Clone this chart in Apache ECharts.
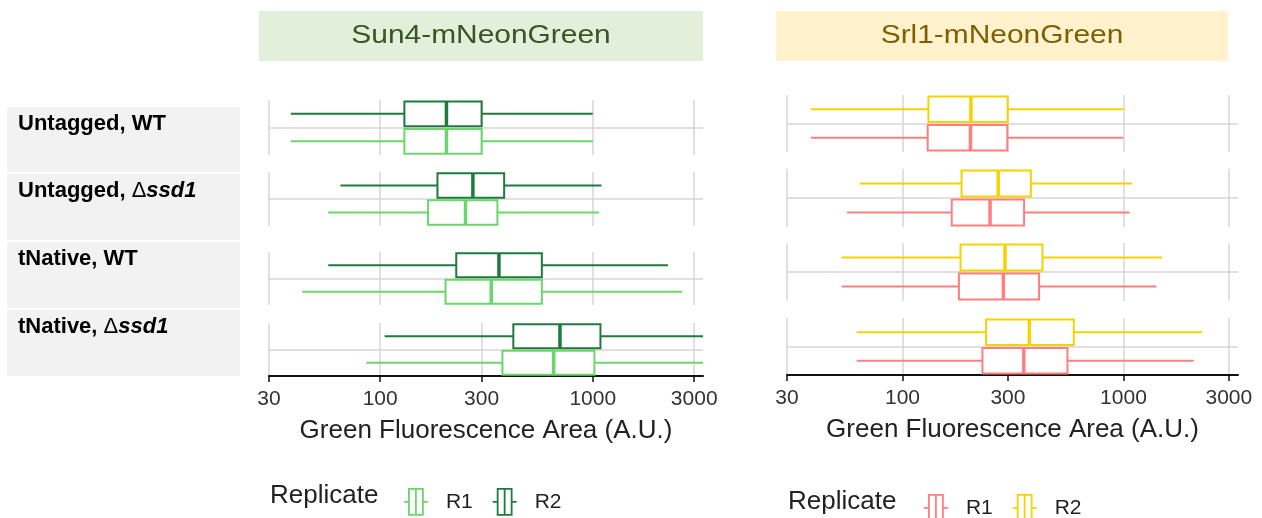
<!DOCTYPE html>
<html>
<head>
<meta charset="utf-8">
<script src="https://cdn.jsdelivr.net/npm/echarts@6/dist/echarts.min.js"></script>
<style>
  html, body { margin: 0; padding: 0; background: #ffffff; }
  #chart { width: 1262px; height: 518px; }
</style>
</head>
<body>
<div id="chart"></div>
<script>
// ---- data ----
const conditions = ['Untagged, WT', 'Untagged, Δssd1', 'tNative, WT', 'tNative, Δssd1'];
const replicates = ['R1', 'R2'];
const panelTitles = ['Sun4-mNeonGreen', 'Srl1-mNeonGreen'];
const axisTitle = 'Green Fluorescence Area (A.U.)';
const legendTitle = 'Replicate';
const tickValues = [30, 100, 300, 1000, 3000];

// box statistics per condition: [lower whisker, Q1, median, Q3, upper whisker]
const sun4R1 = [
  [38, 130, 205, 300, 1000],
  [57, 168, 252, 356, 1070],
  [43, 203, 333, 576, 2630],
  [86, 376, 655, 1018, 3300]
];
const sun4R2 = [
  [38, 130, 205, 300, 1000],
  [65, 186, 273, 383, 1100],
  [57, 228, 362, 576, 2260],
  [105, 423, 701, 1087, 3300]
];
const srl1R1 = [
  [38.5, 130, 203, 298, 1000],
  [56, 167, 249, 355, 1068],
  [53, 180, 286, 415, 1410],
  [62, 230, 354, 558, 2080]
];
const srl1R2 = [
  [38.5, 131, 204, 299, 1000],
  [64, 185, 271, 381, 1093],
  [53, 183, 291, 430, 1500],
  [62, 239, 375, 596, 2270]
];

// ---- layout & style ----
const FONT = "'Liberation Sans', Arial, sans-serif";
const AXIS_MIN = 30, AXIS_MAX = 3300;
const panels = [
  {
    title: panelTitles[0], values: [sun4R1, sun4R2],
    colors: ['#6bd66b', '#1e7b3e'],
    headerBg: '#e2efda', headerText: '#375623',
    left: 269, width: 434,
    rows: [[100, 155], [172, 226], [252, 305], [323, 376]],
    header: { x: 259, w: 444 },
    legend: { titleX: 270, titleY: 496, left: 398, top: 483 }
  },
  {
    title: panelTitles[1], values: [srl1R1, srl1R2],
    colors: ['#ff7f7f', '#f5d300'],
    headerBg: '#fff2cc', headerText: '#7f6000',
    left: 787, width: 451,
    rows: [[95, 152], [169, 227], [243, 301], [318, 375]],
    header: { x: 776, w: 452 },
    legend: { titleX: 788, titleY: 502, left: 918, top: 489 }
  }
];
const strips = [[107, 65], [174, 66], [242, 66], [310, 66]];
const GRID_COLOR = '#d6d6d6';

// horizontal box-and-whisker glyph
function renderBox(params, api) {
  const cat = api.value(0);
  const lo = api.coord([api.value(1), cat]);
  const q1 = api.coord([api.value(2), cat]);
  const md = api.coord([api.value(3), cat]);
  const q3 = api.coord([api.value(4), cat]);
  const hi = api.coord([api.value(5), cat]);
  const band = params.coordSys.height / replicates.length;
  const h = band * 0.9;
  const y = md[1];
  const color = api.visual('color');
  return {
    type: 'group',
    children: [
      { type: 'line', shape: { x1: lo[0], y1: y, x2: q1[0], y2: y }, style: { stroke: color, lineWidth: 2 } },
      { type: 'line', shape: { x1: q3[0], y1: y, x2: hi[0], y2: y }, style: { stroke: color, lineWidth: 2 } },
      { type: 'rect', shape: { x: q1[0], y: y - h / 2, width: q3[0] - q1[0], height: h },
        style: { fill: '#ffffff', stroke: color, lineWidth: 2 } },
      { type: 'line', shape: { x1: md[0], y1: y - h / 2, x2: md[0], y2: y + h / 2 },
        style: { stroke: color, lineWidth: 3.5 } }
    ]
  };
}

const grids = [], xAxes = [], yAxes = [], series = [], graphics = [], legends = [];
const glyph = 'path://M5,0 L19,0 L19,26 L5,26 Z M12,0 L12,26 M0,13 L5,13 M19,13 L24,13';

panels.forEach((p) => {
  p.rows.forEach((row, r) => {
    const gi = grids.length;
    const isBottom = r === p.rows.length - 1;
    grids.push({ left: p.left, width: p.width, top: row[0], height: row[1] - row[0] });
    xAxes.push({
      type: 'log', logBase: 10, gridIndex: gi, min: AXIS_MIN, max: AXIS_MAX,
      axisLine: { show: isBottom, lineStyle: { color: '#111', width: 2 } },
      axisTick: { show: isBottom, customValues: tickValues, length: 6, lineStyle: { color: '#111', width: 1.5 } },
      axisLabel: {
        show: isBottom, customValues: tickValues, margin: 13, fontSize: 21, color: '#333', fontFamily: FONT,
        formatter: (v) => String(Math.round(v))
      },
      splitLine: { show: true, lineStyle: { color: GRID_COLOR, width: 1.5 } },
      minorTick: { show: false }, minorSplitLine: { show: false },
      name: isBottom ? axisTitle : '', nameLocation: 'middle', nameGap: 42,
      nameTextStyle: { fontSize: 26, color: '#222', fontFamily: FONT }
    });
    yAxes.push({
      type: 'category', gridIndex: gi, data: replicates,
      axisLine: { show: false }, axisTick: { show: false }, axisLabel: { show: false },
      splitLine: { show: true, showMinLine: false, showMaxLine: false, lineStyle: { color: GRID_COLOR, width: 1.5 } }
    });
    replicates.forEach((rep, k) => {
      series.push({
        type: 'custom', name: rep, xAxisIndex: gi, yAxisIndex: gi,
        itemStyle: { color: p.colors[k] },
        encode: { x: [1, 2, 3, 4, 5], y: 0 },
        data: [[rep].concat(p.values[k][r])],
        renderItem: renderBox, silent: true
      });
    });
  });

  // panel header
  graphics.push({ type: 'rect', shape: { x: p.header.x, y: 11, width: p.header.w, height: 50 }, style: { fill: p.headerBg }, z: 0 });
  graphics.push({ type: 'text', x: p.header.x + p.header.w / 2, y: 36, scaleX: 1.15,
    style: { text: p.title, x: 0, y: 0, align: 'center', verticalAlign: 'middle', fontSize: 26, fontFamily: FONT, fill: p.headerText } });

  // legend title
  graphics.push({ type: 'text', x: p.legend.titleX, y: p.legend.titleY,
    style: { text: legendTitle, align: 'left', verticalAlign: 'middle', fontSize: 26, fontFamily: FONT, fill: '#222' } });

  legends.push({
    left: p.legend.left, top: p.legend.top, orient: 'horizontal', selectedMode: false,
    itemWidth: 24, itemHeight: 26, itemGap: 19,
    textStyle: { fontSize: 21, color: '#222', fontFamily: FONT, padding: [0, 0, 0, 13] },
    data: replicates.map((rep, k) => ({
      name: rep, icon: glyph,
      itemStyle: { color: '#ffffff', borderColor: p.colors[k], borderWidth: 1.8 }
    }))
  });
});

// row strips on the left
conditions.forEach((c, i) => {
  const [top, h] = strips[i];
  graphics.push({ type: 'rect', shape: { x: 7, y: top, width: 233, height: h }, style: { fill: '#f2f2f2' }, z: 0 });
  let rich;
  const idx = c.indexOf('Δ');
  if (idx >= 0) {
    rich = '{b|' + c.slice(0, idx) + '}{d|Δ}{i|' + c.slice(idx + 1) + '}';
  } else {
    rich = '{b|' + c + '}';
  }
  graphics.push({ type: 'text', x: 18, y: top + 17,
    style: {
      text: rich, align: 'left', verticalAlign: 'middle', fontFamily: FONT,
      rich: {
        b: { fontSize: 22, fontWeight: 'bold', fill: '#000', fontFamily: FONT },
        d: { fontSize: 22, fontWeight: 'normal', fill: '#000', fontFamily: FONT },
        i: { fontSize: 22, fontWeight: 'bold', fontStyle: 'italic', fill: '#000', fontFamily: FONT }
      }
    } });
});

const chart = echarts.init(document.getElementById('chart'), null, { renderer: 'canvas' });
chart.setOption({
  animation: false,
  backgroundColor: '#ffffff',
  grid: grids,
  xAxis: xAxes,
  yAxis: yAxes,
  legend: legends,
  graphic: graphics,
  series: series
});
</script>
</body>
</html>
